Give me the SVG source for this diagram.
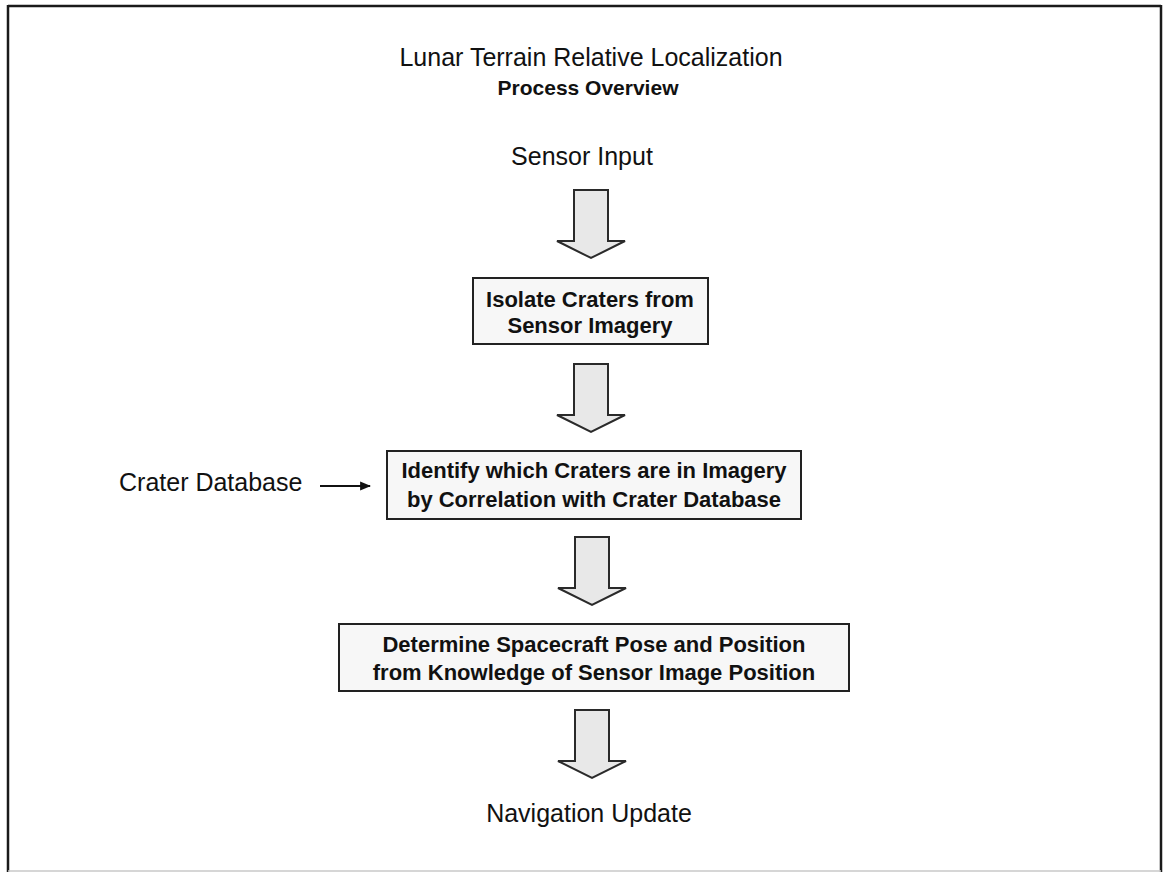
<svg xmlns="http://www.w3.org/2000/svg" width="1165" height="873" viewBox="0 0 1165 873">
  <defs>
    <style>
      .plain { font-family: "Liberation Sans", Arial, sans-serif; fill: #111; }
      .title { font-size: 25px; text-anchor: middle; }
      .sub { font-size: 21px; font-weight: bold; text-anchor: middle; }
      .label { font-size: 25px; text-anchor: middle; }
      .boxtext { font-family: "Liberation Sans", Arial, sans-serif; font-size: 22px; font-weight: bold; fill: #111; text-anchor: middle; }
      .box { fill: #f7f7f7; stroke: #222; stroke-width: 2; }
      .flow { fill: #e8e8e8; stroke: #2a2a2a; stroke-width: 2; stroke-linejoin: miter; }
      .feed { stroke: #111; stroke-width: 2.2; fill: none; }
    </style>
    <!-- block arrow pointing down, origin at top centre of the shaft -->
    <path id="blockArrow" d="M -17 0 L 17 0 L 17 51 L 34 51 L 0 68 L -34 51 L -17 51 Z"/>
    <marker id="head" viewBox="0 0 10 10" refX="9" refY="5" markerWidth="5" markerHeight="5" orient="auto" markerUnits="strokeWidth">
      <path d="M 0 1 L 10 5 L 0 9 Z" fill="#111"/>
    </marker>
  </defs>

  <rect width="1165" height="873" fill="#ffffff"/>

  <!-- page frame -->
  <g id="frame">
    <line x1="8" y1="6" x2="1161" y2="6" stroke="#1a1a1a" stroke-width="2.5"/>
    <line x1="8" y1="5" x2="8" y2="872" stroke="#1a1a1a" stroke-width="2.5"/>
    <line x1="1161" y1="5" x2="1161" y2="872" stroke="#1a1a1a" stroke-width="2.5"/>
    <line x1="8" y1="871" x2="1161" y2="871" stroke="#c8c8c8" stroke-width="1.5"/>
  </g>

  <!-- heading -->
  <g id="heading">
    <text class="plain title" x="591" y="66">Lunar Terrain Relative Localization</text>
    <text class="plain sub" x="588" y="95">Process Overview</text>
  </g>

  <g id="sensor-input">
    <text class="plain label" x="582" y="165">Sensor Input</text>
  </g>

  <g id="isolate-craters">
    <rect class="box" x="473" y="278" width="235" height="66"/>
    <text class="boxtext" x="590" y="307">Isolate Craters from</text>
    <text class="boxtext" x="590" y="333">Sensor Imagery</text>
  </g>

  <g id="crater-database">
    <text class="plain" x="119" y="491" font-size="25">Crater Database</text>
  </g>

  <g id="identify-craters">
    <rect class="box" x="387" y="451" width="414" height="68"/>
    <text class="boxtext" x="594" y="478">Identify which Craters are in Imagery</text>
    <text class="boxtext" x="594" y="507">by Correlation with Crater Database</text>
  </g>

  <g id="determine-pose">
    <rect class="box" x="339" y="624" width="510" height="67"/>
    <text class="boxtext" x="594" y="652">Determine Spacecraft Pose and Position</text>
    <text class="boxtext" x="594" y="680">from Knowledge of Sensor Image Position</text>
  </g>

  <g id="navigation-update">
    <text class="plain label" x="589" y="822">Navigation Update</text>
  </g>

  <!-- connectors -->
  <g id="connectors">
    <use href="#blockArrow" class="flow" x="591" y="190"/>
    <use href="#blockArrow" class="flow" x="591" y="364"/>
    <use href="#blockArrow" class="flow" x="592" y="537"/>
    <use href="#blockArrow" class="flow" x="592" y="710"/>
    <line class="feed" x1="320" y1="486" x2="370" y2="486" marker-end="url(#head)"/>
  </g>
</svg>
